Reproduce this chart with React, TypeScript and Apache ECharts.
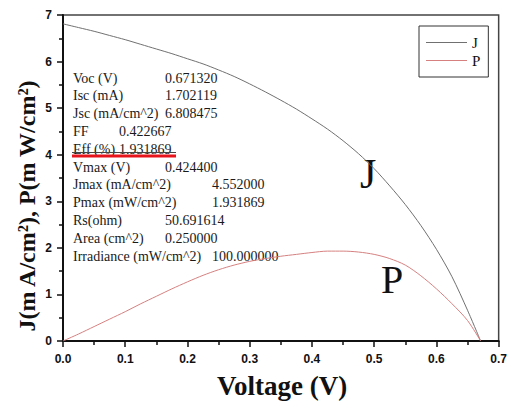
import React, { useEffect, useRef } from "react";
import * as echarts from "echarts";

const voltage = [
  0, 0.025, 0.05, 0.075, 0.1, 0.125, 0.15, 0.175, 0.2, 0.225, 0.25, 0.275, 0.3, 0.325, 0.35, 0.375, 0.4, 0.425,
  0.45, 0.475, 0.5, 0.525, 0.55, 0.575, 0.6, 0.625, 0.65, 0.671,
];
const currentDensity = [
  6.81, 6.73, 6.65, 6.56, 6.47, 6.37, 6.27, 6.17, 6.06, 5.95, 5.82, 5.68, 5.52, 5.35, 5.17, 4.98, 4.77, 4.55, 4.3,
  4.02, 3.7, 3.33, 2.93, 2.48, 1.97, 1.38, 0.66, 0,
];
const power = [
  0, 0.15, 0.31, 0.47, 0.63, 0.8, 0.96, 1.12, 1.27, 1.41, 1.53, 1.63, 1.71, 1.77, 1.82, 1.86, 1.9, 1.93, 1.93, 1.91,
  1.86, 1.77, 1.63, 1.4, 1.12, 0.8, 0.44, 0,
];

const xTicks = [0, 0.1, 0.2, 0.3, 0.4, 0.5, 0.6, 0.7];
const yTicks = [0, 1, 2, 3, 4, 5, 6, 7];

const statLabels = [
  "Voc (V)",
  "Isc (mA)",
  "Jsc (mA/cm^2)",
  "FF",
  "Eff (%)",
  "Vmax (V)",
  "Jmax (mA/cm^2)",
  "Pmax (mW/cm^2)",
  "Rs(ohm)",
  "Area (cm^2)",
  "Irradiance (mW/cm^2)",
];
const statValues = [
  "0.671320",
  "1.702119",
  "6.808475",
  "0.422667",
  "1.931869",
  "0.424400",
  "4.552000",
  "1.931869",
  "50.691614",
  "0.250000",
  "100.000000",
];
const valueColumnX = [165, 165, 165, 119, 119, 165, 212, 212, 165, 165, 212];

export default function App() {
  const ref = useRef<HTMLDivElement>(null);
  useEffect(() => {
    if (!ref.current) return;
    const chart = echarts.init(ref.current, null, { renderer: "svg" });
    const serif = "'Liberation Serif', 'Times New Roman', serif";
    const sans = "'Liberation Sans', Arial, sans-serif";
    const textFill = "#1a1a1a";
    const statGraphics: any[] = [];
    statLabels.forEach((lab, i) => {
      const y = 78 + i * 17.8;
      statGraphics.push({
        type: "text",
        x: 73,
        y,
        style: { text: lab, font: `14px ${serif}`, fill: textFill, verticalAlign: "middle" },
      });
      statGraphics.push({
        type: "text",
        x: valueColumnX[i],
        y,
        style: { text: statValues[i], font: `14px ${serif}`, fill: textFill, verticalAlign: "middle" },
      });
    });
    chart.setOption({
      animation: false,
      backgroundColor: "#ffffff",
      grid: {
        left: 63,
        right: 10,
        top: 15,
        bottom: 61,
        show: true,
        borderColor: "#444",
        borderWidth: 1.5,
      },
      legend: {
        orient: "vertical",
        left: 419,
        top: 26,
        padding: [9, 8, 9, 7],
        itemGap: 3,
        itemWidth: 41,
        itemHeight: 1.2,
        icon: "rect",
        borderColor: "#333",
        borderWidth: 1,
        textStyle: { fontFamily: serif, fontSize: 15, color: "#111", lineHeight: 15 },
        data: ["J", "P"],
      },
      xAxis: {
        type: "value",
        min: 0,
        max: 0.7,
        interval: 0.1,
        axisLine: { lineStyle: { color: "#111", width: 2 } },
        axisTick: { length: 6, lineStyle: { color: "#111", width: 1.5 } },
        minorTick: { show: true, splitNumber: 2, length: 4, lineStyle: { color: "#111", width: 1.5 } },
        splitLine: { show: false },
        axisLabel: {
          margin: 12,
          fontFamily: sans,
          fontWeight: "bold",
          fontSize: 12,
          color: "#111",
          formatter: (v: number) => (xTicks.includes(Math.round(v * 10) / 10) ? v.toFixed(1) : ""),
        },
      },
      yAxis: {
        type: "value",
        min: 0,
        max: 7,
        interval: 1,
        axisLine: { show: true, lineStyle: { color: "#111", width: 2 } },
        axisTick: { show: true, length: 6, lineStyle: { color: "#111", width: 1.5 } },
        minorTick: { show: true, splitNumber: 2, length: 4, lineStyle: { color: "#111", width: 1.5 } },
        splitLine: { show: false },
        axisLabel: {
          margin: 11,
          fontFamily: sans,
          fontWeight: "bold",
          fontSize: 12,
          color: "#111",
          formatter: (v: number) => (yTicks.includes(v) ? String(v) : ""),
        },
      },
      series: [
        {
          name: "J",
          type: "line",
          smooth: 0.3,
          symbol: "none",
          lineStyle: { color: "#707070", width: 1 },
          itemStyle: { color: "#707070" },
          data: voltage.map((v, i) => [v, currentDensity[i]]),
        },
        {
          name: "P",
          type: "line",
          smooth: 0.3,
          symbol: "none",
          lineStyle: { color: "#d68080", width: 1 },
          itemStyle: { color: "#d68080" },
          data: voltage.map((v, i) => [v, power[i]]),
        },
      ],
      graphic: [
        ...statGraphics,
        { type: "line", shape: { x1: 72, y1: 152.5, x2: 176, y2: 152.5 }, style: { stroke: "#444", lineWidth: 1 } },
        { type: "line", shape: { x1: 72, y1: 156, x2: 176, y2: 156 }, style: { stroke: "#e8141c", lineWidth: 3 } },
        {
          type: "text",
          x: 360,
          y: 174,
          style: { text: "J", font: `42px ${serif}`, fill: "#111", verticalAlign: "middle" },
        },
        {
          type: "text",
          x: 381,
          y: 279,
          style: { text: "P", font: `40px ${serif}`, fill: "#111", verticalAlign: "middle" },
        },
        {
          type: "text",
          x: 282,
          y: 386,
          style: {
            text: "Voltage (V)",
            font: `bold 27px ${serif}`,
            fill: "#111",
            align: "center",
            verticalAlign: "middle",
          },
        },
        {
          type: "text",
          x: 27,
          y: 206,
          rotation: Math.PI / 2,
          style: {
            text: "J(m A/cm²), P(m W/cm²)",
            font: `bold 24px ${serif}`,
            fill: "#111",
            align: "center",
            verticalAlign: "middle",
          },
        },
      ],
    });
    return () => chart.dispose();
  }, []);
  return <div ref={ref} style={{ width: 510, height: 402, position: "absolute", left: 0, top: 0 }} />;
}
